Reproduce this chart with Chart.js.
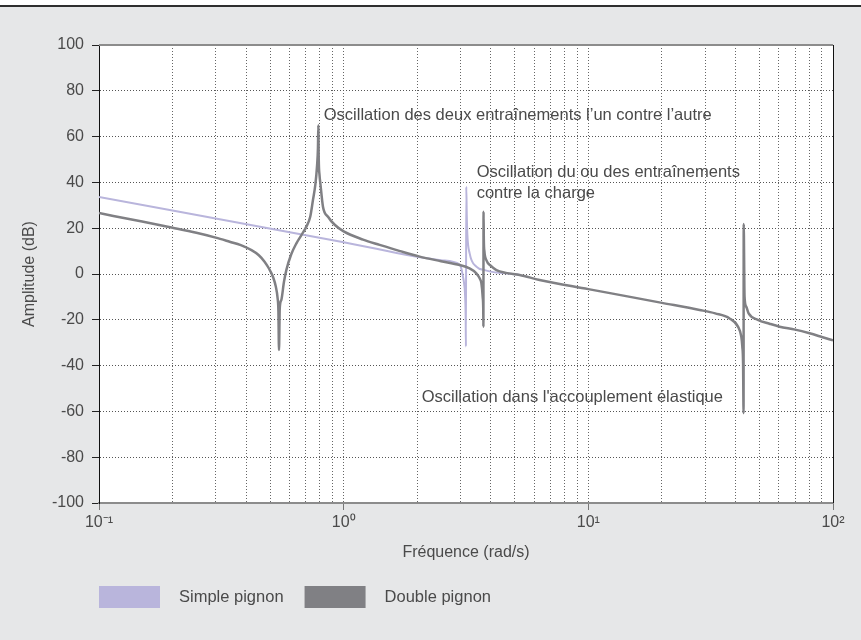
<!DOCTYPE html>
<html><head><meta charset="utf-8">
<script src="https://cdn.jsdelivr.net/npm/chart.js@4/dist/chart.umd.min.js"></script>
<style>html,body{margin:0;padding:0;background:#fff;}canvas{display:block;}</style>
</head><body>
<div style="width:861px;height:640px;position:relative"><canvas id="c" width="861" height="640"></canvas></div>
<script>
// ---- data ----
const seriesNames = ['Simple pignon', 'Double pignon'];
const seriesColors = ['#b9b5dc', '#808084'];

const simpleFreq = [0.1, 1.0, 2.5, 2.98, 3.03, 3.074, 3.11, 3.132, 3.152, 3.16, 3.17, 3.185, 3.201, 3.273, 3.485, 3.8, 4.21, 4.6, 5.24];
const simpleAmp  = [33.6, 13.9, 6.0, 4.1, 2.2, -1.2, -4.5, -8.4, -18.6, -31.7, 38.1, 26, 17.8, 9.0, 3.2, 1.6, 0.6, 0.3, -0.4];

const doubleFreq = [0.1, 0.15, 0.2, 0.25, 0.3, 0.342, 0.38, 0.42, 0.45, 0.475, 0.495, 0.514, 0.528, 0.537, 0.541, 0.5441, 0.548, 0.556, 0.57, 0.583, 0.61, 0.641, 0.672, 0.704, 0.73, 0.749, 0.766, 0.778, 0.785, 0.788, 0.791, 0.797, 0.803, 0.823, 0.863, 0.919, 1.0, 1.2, 1.403, 1.7, 2.045, 2.5, 2.98, 3.25, 3.485, 3.6, 3.654, 3.7, 3.72, 3.725, 3.73, 3.74, 3.76, 3.83, 4.0, 4.21, 4.6, 5.24, 6.32, 10, 15, 20, 28.5, 33, 37.8, 40.9, 42.2, 42.6, 42.9, 43.1, 43.15, 43.5, 44.2, 45.2, 49.3, 55, 60.5, 70, 80.2, 90, 100];
const doubleAmp  = [26.6, 22.9, 20.2, 18.0, 15.9, 14.1, 12.6, 10.4, 8.2, 5.4, 2.4, -1.2, -5.5, -10.5, -16, -33.2, -15, -11.4, -3.5, 1.7, 8.5, 13.4, 17.0, 20.7, 25, 32.3, 39, 46.9, 55, 65, 50, 43, 39.6, 29.4, 25.0, 21.5, 18.6, 15.0, 12.7, 10.0, 7.6, 5.6, 3.9, 2.6, 0.3, -2, -4, -10, -16, -23, 27.2, 15, 10, 6.1, 3.5, 1.7, 0.5, -0.4, -2.6, -6.6, -10.1, -12.6, -15.7, -17.2, -19.4, -23, -27.4, -31.7, -39, -60.8, 21.8, -9.9, -14.3, -17.2, -20, -21.7, -23, -24.3, -25.9, -27.5, -29];

const xTickValues = [0.1, 1, 10, 100];
const xTickLabels = ['10\u207B\u00B9', '10\u2070', '10\u00B9', '10\u00B2'];
const yRange = [-100, 100];
const yStep = 20;
const xTitle = 'Fréquence (rad/s)';
const yTitle = 'Amplitude (dB)';

const notes = [
  {lines: ['Oscillation des deux entraînements l\u2019un contre l\u2019autre'], f: 0.829, db: 69.4},
  {lines: ['Oscillation du ou des entraînements', 'contre la charge'], f: 3.496, db: 44.5},
  {lines: ["Oscillation dans l'accouplement élastique"], f: 2.084, db: -53.7}
];

// ---- chart ----
const FONT = "'Liberation Sans', Arial, Helvetica, sans-serif";
const TXT = '#4a4a4a';
Chart.defaults.font.family = FONT;
Chart.defaults.font.size = 16;
Chart.defaults.color = TXT;

const isDecade = v => xTickValues.some(t => Math.abs(t - v) / t < 1e-6);

const bgPlugin = {
  id: 'bg',
  beforeDraw(chart) {
    const {ctx, width, height, chartArea: a} = chart;
    ctx.save();
    ctx.fillStyle = '#ffffff';
    ctx.fillRect(0, 0, width, height);
    ctx.fillStyle = '#e6e7e8';
    ctx.fillRect(0, 7, width, height - 7);
    ctx.fillStyle = '#2e2e2e';
    ctx.fillRect(0, 5, width, 2);
    ctx.fillStyle = '#ffffff';
    ctx.fillRect(a.left, a.top, a.right - a.left, a.bottom - a.top);
    ctx.restore();
  },
  afterDraw(chart) {
    const {ctx, chartArea: a, scales} = chart;
    ctx.save();
    // top and right frame
    ctx.strokeStyle = '#8c8c8c'; ctx.lineWidth = 2;
    ctx.beginPath(); ctx.moveTo(a.left, a.top); ctx.lineTo(a.right, a.top); ctx.stroke();
    ctx.strokeStyle = '#111'; ctx.lineWidth = 1;
    ctx.beginPath(); ctx.moveTo(a.right + 0.5, a.top); ctx.lineTo(a.right + 0.5, a.bottom); ctx.stroke();
    // annotations
    ctx.fillStyle = TXT;
    ctx.font = '16.5px ' + FONT;
    ctx.textAlign = 'left'; ctx.textBaseline = 'middle';
    notes.forEach(n => {
      const x = scales.x.getPixelForValue(n.f);
      const y = scales.y.getPixelForValue(n.db);
      n.lines.forEach((l, i) => ctx.fillText(l, x, y + i * 21));
    });
    // legend
    let lx = a.left;
    const ly = 586;
    chart.data.datasets.forEach(ds => {
      ctx.fillStyle = ds.borderColor;
      ctx.fillRect(lx, ly, 61, 22);
      ctx.fillStyle = TXT;
      ctx.fillText(ds.label, lx + 61 + 19, ly + 11);
      lx += 61 + 19 + ctx.measureText(ds.label).width + 21;
    });
    ctx.restore();
  }
};

const toPts = (fs, as) => fs.map((f, i) => ({x: f, y: as[i]}));

new Chart(document.getElementById('c'), {
  type: 'line',
  data: {
    datasets: [
      {label: seriesNames[0], data: toPts(simpleFreq, simpleAmp), borderColor: seriesColors[0], backgroundColor: seriesColors[0], borderWidth: 2, pointRadius: 0, cubicInterpolationMode: 'monotone', order: 1},
      {label: seriesNames[1], data: toPts(doubleFreq, doubleAmp), borderColor: seriesColors[1], backgroundColor: seriesColors[1], borderWidth: 2.5, pointRadius: 0, cubicInterpolationMode: 'monotone', order: 0}
    ]
  },
  options: {
    responsive: false,
    animation: false,
    devicePixelRatio: 1,
    layout: {padding: {left: 0, top: 45, right: 28, bottom: 0}},
    plugins: {legend: {display: false}, tooltip: {enabled: false}},
    scales: {
      x: {
        type: 'logarithmic', min: xTickValues[0], max: xTickValues[xTickValues.length - 1],
        afterBuildTicks: s => {
          const t = [];
          for (let d = 0; d < xTickValues.length - 1; d++)
            for (let m = 1; m < 10; m++) t.push({value: xTickValues[d] * m});
          t.push({value: xTickValues[xTickValues.length - 1]});
          s.ticks = t;
        },
        afterFit: s => { s.height = 137; },
        ticks: {
          autoSkip: false, maxRotation: 0, padding: 3,
          callback: v => { const i = xTickValues.findIndex(t => Math.abs(t - v) / t < 1e-6); return i >= 0 ? xTickLabels[i] : ''; }
        },
        grid: {color: '#666', lineWidth: 1, tickLength: 7, tickWidth: 1,
               tickColor: c => (c.tick && isDecade(c.tick.value)) ? '#777' : 'rgba(0,0,0,0)'},
        border: {color: '#8c8c8c', width: 2, dash: [1, 2]},
        title: {display: true, text: xTitle, padding: {top: 0, bottom: 78}}
      },
      y: {
        min: yRange[0], max: yRange[1],
        afterFit: s => { s.width = 99; },
        ticks: {stepSize: yStep, padding: 8},
        grid: {color: '#555', lineWidth: 1, tickLength: 7, tickColor: '#222'},
        border: {color: '#111', width: 1, dash: [1, 2]},
        title: {display: true, text: yTitle, padding: {top: 20, bottom: 0}}
      }
    }
  },
  plugins: [bgPlugin]
});
</script>
</body></html>
